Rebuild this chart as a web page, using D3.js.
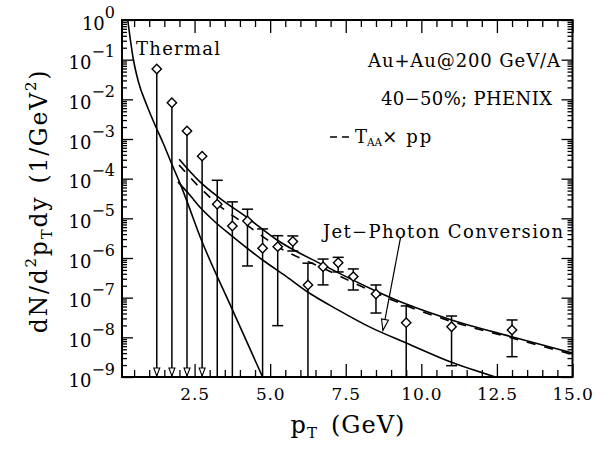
<!DOCTYPE html>
<html>
<head>
<meta charset="utf-8">
<script src="https://cdn.jsdelivr.net/npm/d3@7"></script>
<style>
  body { margin: 0; background: #fff; }
  svg text { font-family: "DejaVu Serif", serif; fill: #000; }
</style>
</head>
<body>
<div id="chart"></div>
<script>
// PHENIX 40-50% direct photon points
const ptBins    = [1.25, 1.75, 2.25, 2.75, 3.25, 3.75, 4.25, 4.75, 5.25, 5.75, 6.25, 6.75, 7.25, 7.75, 8.5, 9.5, 11.0, 13.0];
const yieldVals = [5.8e-2, 8.2e-3, 1.6e-3, 3.7e-4, 2.26e-5, 6.4e-6, 8.6e-6, 1.76e-6, 1.93e-6, 2.6e-6, 2.09e-7, 6.0e-7, 7.6e-7, 3.4e-7, 1.24e-7, 2.34e-8, 1.85e-8, 1.53e-8];
const errHigh   = [null, null, null, null, 9.1e-5, 2.6e-5, 1.7e-5, 5.4e-6, 3.65e-6, 3.6e-6, 7.4e-7, 9.4e-7, 1.04e-6, 5.3e-7, 2.09e-7, 6.2e-8, 3.45e-8, 2.74e-8];
// null = error bar runs down to the axis
const errLow    = [null, null, null, null, null, null, 6.3e-7, null, 1.97e-8, 1.5e-6, null, 2.1e-7, 4.45e-7, 1.56e-7, 4.1e-8, null, 1.93e-9, 3.25e-9];
const upperLimit = [true, true, true, true, false, false, false, false, false, false, false, false, false, false, false, false, false, false];

// model curves
const thermalPt   = [0.29, 0.47, 0.64, 0.92, 1.21, 1.47, 1.75, 2.02, 2.24, 2.68, 3.75, 4.75];
const thermalVals = [1.0, 0.107, 0.0282, 7.1e-3, 2.1e-3, 7.6e-4, 2.3e-4, 7.6e-5, 2.8e-5, 3.5e-6, 5.0e-8, 1.0e-9];

const totalPt   = [1.99, 2.68, 3.34, 4.26, 5.24, 6.76, 8.49, 9.52, 11.0, 13.02, 15.0];
const totalVals = [3.1e-4, 8.3e-5, 3.2e-5, 1.02e-5, 2.8e-6, 6.6e-7, 1.48e-7, 6.8e-8, 2.75e-8, 1.02e-8, 4.0e-9];

const ppVals    = [2.2e-4, 5.9e-5, 2.04e-5, 6.5e-6, 1.95e-6, 5.5e-7, 1.32e-7, 6.2e-8, 2.5e-8, 9.5e-9, 3.7e-9];

const jetPt   = [1.95, 2.35, 2.68, 3.08, 3.75, 4.75, 5.54, 6.23, 7.23, 8.32, 9.52, 11.0, 12.45];
const jetVals = [8.3e-5, 3.8e-5, 1.9e-5, 9.5e-6, 3.5e-6, 8.9e-7, 3.4e-7, 1.41e-7, 5.0e-8, 1.78e-8, 7.1e-9, 2.34e-9, 1.0e-9];

const xTicks = [2.5, 5, 7.5, 10, 12.5, 15];
const xMinor = [0.5, 1, 1.5, 2, 3, 3.5, 4, 4.5, 5.5, 6, 6.5, 7, 8, 8.5, 9, 9.5, 10.5, 11, 11.5, 12, 13, 13.5, 14, 14.5];
const yExps  = [0, -1, -2, -3, -4, -5, -6, -7, -8, -9];

const width = 613, height = 449;
const mLeft = 122, mRight = 572.5, mTop = 20, mBottom = 377;

const svg = d3.select("#chart").append("svg")
    .attr("width", width)
    .attr("height", height);

const x = d3.scaleLinear().domain([0.1, 15]).range([mLeft, mRight]);
const y = d3.scaleLog().domain([1e-9, 1]).range([mBottom, mTop]);

const yMajor = yExps.map(e => Math.pow(10, e));
const yMinor = [];
yExps.slice(1).forEach(e => {
    for (let m = 2; m <= 9; m++) yMinor.push(m * Math.pow(10, e));
});

// axes (ticks pointing inward on all four sides)
function ticks(axis, tx, ty) {
    const g = svg.append("g").attr("transform", `translate(${tx},${ty})`).call(axis);
    g.select(".domain").remove();
    g.selectAll("line").attr("stroke", "#000").attr("stroke-width", 1.3);
    return g;
}

const xAxis = ticks(d3.axisBottom(x).tickValues(xTicks).tickSize(-13).tickPadding(11)
    .tickFormat(d3.format(".1f")), 0, mBottom);
xAxis.selectAll("text").attr("font-size", 17).attr("font-family", "DejaVu Serif")
    .attr("letter-spacing", 0.8);
ticks(d3.axisBottom(x).tickValues(xMinor).tickSize(-7).tickFormat(""), 0, mBottom);
ticks(d3.axisTop(x).tickValues(xTicks).tickSize(-13).tickFormat(""), 0, mTop);
ticks(d3.axisTop(x).tickValues(xMinor).tickSize(-7).tickFormat(""), 0, mTop);

ticks(d3.axisLeft(y).tickValues(yMajor).tickSize(-11).tickFormat(""), mLeft, 0);
ticks(d3.axisLeft(y).tickValues(yMinor).tickSize(-5).tickFormat(""), mLeft, 0);
ticks(d3.axisRight(y).tickValues(yMajor).tickSize(-11).tickFormat(""), mRight, 0);
ticks(d3.axisRight(y).tickValues(yMinor).tickSize(-5).tickFormat(""), mRight, 0);

// y tick labels 10^n
const yl = svg.append("g").selectAll("text")
    .data(yExps)
    .enter().append("text")
    .attr("x", 115)
    .attr("y", d => y(Math.pow(10, d)) + 9.5)
    .attr("text-anchor", "end")
    .attr("font-size", 18);
yl.append("tspan").text("10");
yl.append("tspan").attr("dy", -12).attr("font-size", 16)
    .text(d => d === 0 ? "0" : "\u2212" + (-d));

// frame
svg.append("rect")
    .attr("x", mLeft).attr("y", mTop)
    .attr("width", mRight - mLeft).attr("height", mBottom - mTop)
    .attr("fill", "none").attr("stroke", "#000").attr("stroke-width", 2);

// curves
svg.append("clipPath").attr("id", "plot")
    .append("rect").attr("x", mLeft).attr("y", mTop)
    .attr("width", mRight - mLeft).attr("height", mBottom - mTop);

const line = d3.line()
    .x(d => x(d[0]))
    .y(d => y(d[1]))
    .curve(d3.curveMonotoneX);

const curves = [
    { pt: thermalPt, v: thermalVals, dash: null },
    { pt: totalPt, v: totalVals, dash: null },
    { pt: totalPt, v: ppVals, dash: "9,9" },
    { pt: jetPt, v: jetVals, dash: null }
];

svg.append("g").attr("clip-path", "url(#plot)")
    .selectAll("path")
    .data(curves)
    .enter().append("path")
    .attr("d", c => line(c.pt.map((p, i) => [p, c.v[i]])))
    .attr("fill", "none")
    .attr("stroke", "#000")
    .attr("stroke-width", 1.6)
    .attr("stroke-dasharray", c => c.dash);

// data points
const pts = ptBins.map((p, i) => ({
    pt: p, v: yieldVals[i], hi: errHigh[i], lo: errLow[i], lim: upperLimit[i]
}));

const gp = svg.append("g");
gp.selectAll(".bar")
    .data(pts)
    .enter().append("line")
    .attr("class", "bar")
    .attr("x1", d => x(d.pt)).attr("x2", d => x(d.pt))
    .attr("y1", d => y(d.hi === null ? d.v : d.hi))
    .attr("y2", d => d.lo === null ? mBottom : y(d.lo))
    .attr("stroke", "#000").attr("stroke-width", 1.5);

const caps = [];
pts.forEach(d => {
    if (d.hi !== null) caps.push({ pt: d.pt, v: d.hi });
    if (d.lo !== null) caps.push({ pt: d.pt, v: d.lo });
});
gp.selectAll(".cap")
    .data(caps)
    .enter().append("line")
    .attr("class", "cap")
    .attr("x1", d => x(d.pt) - 5.5).attr("x2", d => x(d.pt) + 5.5)
    .attr("y1", d => y(d.v)).attr("y2", d => y(d.v))
    .attr("stroke", "#000").attr("stroke-width", 1.5);

gp.selectAll(".arrow")
    .data(pts.filter(d => d.lim))
    .enter().append("path")
    .attr("class", "arrow")
    .attr("d", d => `M${x(d.pt) - 3},${mBottom - 9}L${x(d.pt) + 3},${mBottom - 9}L${x(d.pt)},${mBottom - 1}Z`)
    .attr("fill", "#fff").attr("stroke", "#000").attr("stroke-width", 1.1);

gp.selectAll(".pt")
    .data(pts)
    .enter().append("path")
    .attr("class", "pt")
    .attr("d", d3.symbol().type(d3.symbolSquare).size(44))
    .attr("transform", d => `translate(${x(d.pt)},${y(d.v)}) rotate(45)`)
    .attr("fill", "#fff").attr("stroke", "#000").attr("stroke-width", 1.4);

// labels (the original uses a wide typewriter face, so stretch to its widths)
function label(px, py, str, len, anchor) {
    return svg.append("text").attr("x", px).attr("y", py)
        .attr("font-size", 18)
        .attr("text-anchor", anchor || "start")
        .attr("textLength", len).attr("lengthAdjust", "spacing")
        .text(str);
}
label(136, 55, "Thermal", 84);
label(560, 67, "Au+Au@200 GeV/A", 192, "end");
label(552, 105, "40\u221250%; PHENIX", 171, "end");
label(323, 238, "Jet\u2212Photon Conversion", 240);

svg.append("line").attr("x1", 330).attr("x2", 353).attr("y1", 137).attr("y2", 137)
    .attr("stroke", "#000").attr("stroke-width", 1.5).attr("stroke-dasharray", "7,5");
const lg = svg.append("text").attr("x", 355).attr("y", 143).attr("font-size", 18);
lg.append("tspan").text("T");
lg.append("tspan").attr("font-size", 10.5).attr("dy", 3).text("AA");
lg.append("tspan").attr("dy", -3).text("\u00d7");
lg.append("tspan").attr("dx", 9).attr("letter-spacing", 2).text("pp");

// arrow to the jet-photon conversion curve
const tail = [x(9.31), y(3.2e-6)], tip = [x(8.73), y(1.5e-8)];
svg.append("line")
    .attr("x1", tail[0]).attr("y1", tail[1]).attr("x2", tip[0]).attr("y2", tip[1])
    .attr("stroke", "#000").attr("stroke-width", 1.2);
const ang = Math.atan2(tip[1] - tail[1], tip[0] - tail[0]);
const hx = tip[0] - 11 * Math.cos(ang), hy = tip[1] - 11 * Math.sin(ang);
const nx = -Math.sin(ang) * 3.5, ny = Math.cos(ang) * 3.5;
svg.append("path")
    .attr("d", `M${hx + nx},${hy + ny}L${tip[0]},${tip[1]}L${hx - nx},${hy - ny}Z`)
    .attr("fill", "#fff").attr("stroke", "#000").attr("stroke-width", 1.1);

// axis titles
const xt = svg.append("text").attr("x", 348).attr("y", 433)
    .attr("text-anchor", "middle").attr("font-size", 24).attr("letter-spacing", 1);
xt.append("tspan").text("p");
xt.append("tspan").attr("font-size", 15).attr("dy", 5).text("T");
xt.append("tspan").attr("dy", -5).attr("dx", 13).text("(GeV)");

const yt = svg.append("text")
    .attr("transform", "translate(47,201) rotate(-90)")
    .attr("text-anchor", "middle").attr("font-size", 23.5)
    .attr("letter-spacing", 1.8);
yt.append("tspan").text("dN/d");
yt.append("tspan").attr("font-size", 15).attr("dy", -11).text("2");
yt.append("tspan").attr("dy", 11).text("p");
yt.append("tspan").attr("font-size", 15).attr("dy", 5).text("T");
yt.append("tspan").attr("dy", -5).text("dy");
yt.append("tspan").attr("dx", 12).text("(1/GeV");
yt.append("tspan").attr("font-size", 15).attr("dy", -11).text("2");
yt.append("tspan").attr("dy", 11).text(")");
</script>
</body>
</html>
